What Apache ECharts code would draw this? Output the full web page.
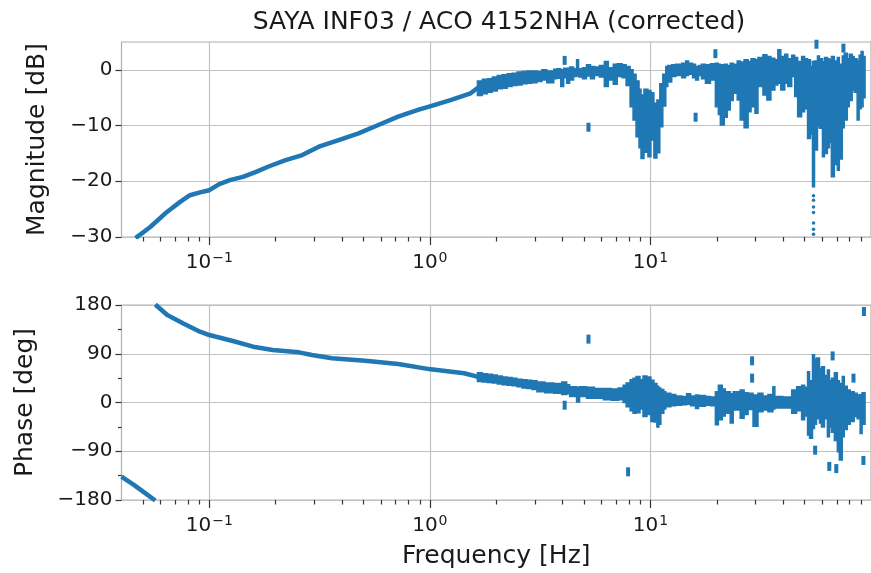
<!DOCTYPE html>
<html>
<head>
<meta charset="utf-8">
<title>SAYA INF03 / ACO 4152NHA (corrected)</title>
<script src="https://cdn.jsdelivr.net/npm/echarts@6/dist/echarts.min.js"></script>
<style>
html, body { margin: 0; padding: 0; background: #fff; }
#chart { width: 871px; height: 573px; }
</style>
</head>
<body>
<div id="chart"></div>
<script>
// ---- values ----
var xMajorTicks = [0.1, 1, 10];
var xMinorTicks = [0.05, 0.06, 0.07, 0.08, 0.09,
                   0.2, 0.3, 0.4, 0.5, 0.6, 0.7, 0.8, 0.9,
                   2, 3, 4, 5, 6, 7, 8, 9,
                   20, 30, 40, 50, 60, 70, 80, 90];
var magTicks = [-30, -20, -10, 0];
var phaseTicks = [-180, -90, 0, 90, 180];

// smooth part of the magnitude trace
var magFreq = [0.0463, 0.054, 0.0643, 0.0738, 0.0817, 0.0908, 0.1, 0.111, 0.124, 0.142,
               0.163, 0.187, 0.222, 0.264, 0.314, 0.386, 0.475, 0.584, 0.718, 0.883,
               1.01, 1.25, 1.53, 1.64, 2.02, 2.49, 3.06];
var magDb = [-30.2, -28.2, -25.5, -23.7, -22.5, -22.0, -21.6, -20.5, -19.8, -19.2,
             -18.3, -17.3, -16.2, -15.3, -13.8, -12.6, -11.4, -9.9, -8.4, -7.2,
             -6.5, -5.4, -4.2, -3.3, -2.3, -1.5, -1.1];

// noisy part of the magnitude trace: spread (low/high) between band edges
var magBandEdges = [1.643, 1.730, 1.823, 1.919, 2.021, 2.129, 2.242, 2.361, 2.486, 2.618,
                    2.757, 2.903, 3.058, 3.22, 3.39, 3.645, 3.762, 3.920, 4.044, 4.171,
                    4.302, 4.483, 4.626, 4.723, 4.921, 5.13, 5.348, 5.573, 5.869, 6.18,
                    6.442, 6.785, 7.07, 7.443, 7.758, 8.088, 8.342, 8.607, 8.879, 9.064,
                    9.349, 9.745, 10.05, 10.37, 10.70, 11.03, 11.38, 11.74, 11.99, 12.49,
                    13.02, 13.86, 14.44, 14.89, 15.52, 16.02, 16.52, 17.04, 17.76, 18.71,
                    19.70, 20.32, 20.75, 21.62, 22.30, 23.00, 23.73, 24.74, 25.52, 26.59,
                    27.72, 28.59, 29.80, 30.73, 32.37, 33.74, 35.17, 36.65, 37.81, 39.00,
                    40.65, 41.94, 43.70, 45.08, 46.50, 48.47, 49.99, 51.57, 53.19, 54.30,
                    55.44, 57.19, 58.40, 60.25, 61.51, 63.44, 64.77, 66.13, 68.22, 70.37,
                    71.84, 74.10, 75.65, 78.03, 79.67, 82.17, 83.90, 86.53, 88.35, 90.19,
                    92.05, 93.98];
var magBandLow = [-4.6, -4.3, -4.0, -3.8, -3.4, -3.3, -3.0, -2.8, -2.7, -2.5,
                  -2.4, -2.3, -2.1, -1.8, -2.3, -1.6, -1.5, -3.0, -1.4, -2.4,
                  -1.8, -1.2, -1.0, -1.3, -1.6, -1.1, -1.6, -1.0, -1.3, -3.0,
                  -1.8, -2.6, -1.2, -1.4, -2.8, -6.6, -9.0, -12.0, -14.0, -15.9,
                  -14.8, -15.6, -12.6, -15.8, -14.9, -10.2, -6.5, -3.0, -2.2, -1.2,
                  -1.0, -1.4, -1.0, -0.8, -1.4, -1.8, -1.0, -1.6, -2.4, -1.8,
                  -6.6, -8.0, -9.9, -8.5, -7.2, -5.5, -4.2, -5.4, -9.0, -10.4,
                  -7.5, -6.6, -7.8, -3.0, -4.5, -5.4, -3.6, -2.7, -2.4, -3.6,
                  -2.4, -3.0, -1.2, -4.8, -8.4, -7.5, -7.0, -12.3, -11.5, -21.0,
                  -14.4, -10.2, -10.5, -15.6, -15.0, -14.0, -13.0, -19.2, -17.0, -18.0,
                  -16.0, -10.4, -9.0, -6.6, -5.5, -3.6, -4.0, -9.0, -7.0, -6.6,
                  -5.0];
var magBandHigh = [-2.0, -1.7, -1.6, -1.3, -1.0, -0.9, -0.7, -0.6, -0.4, -0.3,
                   -0.2, -0.2, -0.3, 0.0, -0.2, 0.1, 0.2, 0.0, 0.3, 0.3,
                   0.5, 0.2, 1.8, 0.2, 0.4, 0.9, 0.6, 0.5, 0.8, 1.5,
                   0.4, 1.0, 1.1, 0.9, 0.6, 0.0, -0.8, -2.0, -3.5, -4.5,
                   -3.5, -3.7, -4.1, -6.0, -5.4, -2.5, -0.8, 0.6, 0.8, 0.9,
                   1.0, 1.2, 1.6, 1.2, 1.0, 0.6, 0.8, 1.0, 0.9, 1.1,
                   1.2, 1.0, 0.9, 1.0, 0.8, 1.2, 1.0, 1.6, 1.4, 1.8,
                   1.5, 2.0, 1.8, 2.2, 2.7, 2.4, 2.1, 1.8, 3.6, 2.4,
                   2.8, 2.0, 2.6, 2.2, 1.5, 2.4, 2.0, 1.8, 0.6, 1.5,
                   1.6, 2.5, 2.0, 1.4, 2.2, 2.0, 1.8, 2.4, 1.6, 2.2,
                   1.0, 2.5, 3.0, 2.0, 2.8, 2.4, 2.0, 1.6, 2.6, 3.3,
                   2.4];

// isolated magnitude samples
var magOutFreq = [4.085, 5.237, 16.02, 19.7, 56.6, 75.0];
var magOutDb = [1.7, -10.3, -8.5, 2.9, 4.6, 3.9];
var magDotFreq = [54.87, 54.87, 54.87, 54.87, 54.87, 54.87, 54.87];
var magDotDb = [-22.6, -23.4, -24.6, -25.6, -27.5, -28.6, -29.5];

// phase: wrapped branch at the lowest frequencies, then the smooth trace
var phaseWrapFreq = [0.04, 0.0455, 0.0503, 0.0569];
var phaseWrapDeg = [-137, -152, -165, -181];
var phaseFreq = [0.0569, 0.0645, 0.0763, 0.0908, 0.1, 0.128, 0.158, 0.194, 0.255, 0.292,
                 0.36, 0.509, 0.718, 1.01, 1.43, 1.64, 2.02, 2.49, 3.06];
var phaseDeg = [181, 161.5, 146, 130.7, 124.6, 113.5, 103, 97, 92.6, 87.7,
                81.6, 77.2, 71, 61.2, 54, 47.7, 41, 35, 29];

var phaseBandEdges = [1.643, 1.730, 1.823, 1.919, 2.021, 2.129, 2.242, 2.361, 2.486, 2.618,
                      2.757, 2.903, 3.058, 3.321, 3.645, 3.962, 4.171, 4.302, 4.626, 4.773,
                      5.13, 5.573, 6.115, 6.645, 7.143, 7.521, 7.758, 8.088, 8.342, 8.607,
                      8.971, 9.253, 9.645, 10.05, 10.37, 10.70, 10.92, 11.15, 11.50, 11.74,
                      12.37, 13.02, 13.86, 14.59, 15.21, 16.02, 16.52, 17.76, 18.71, 19.70,
                      20.32, 21.18, 21.85, 23.00, 23.73, 25.52, 26.59, 27.72, 29.19, 30.73,
                      32.37, 34.09, 35.91, 36.65, 39.81, 43.70, 46.02, 48.47, 49.99, 51.57,
                      52.65, 54.30, 55.44, 56.60, 58.40, 59.63, 61.51, 63.44, 64.77, 66.13,
                      68.22, 70.37, 71.84, 74.10, 75.65, 78.03, 80.47, 83.90, 86.53, 89.26,
                      91.12, 93.98];
var phaseBandLow = [39, 38, 37, 36, 34, 33, 32, 31, 29, 27,
                    26, 24, 20, 18, 17, 15, 16, 11, 1, 11,
                    8, 8, 5, 4, 5, 0, -8, -15, -20, -19,
                    -12, -26, -22, -35, -36, -45, -40, -20, -12, -8,
                    -6, -5, -4, -3, -6, -11, -7, -5, -6, -41,
                    -32, -25, -20, -38, -14, -29, -22, -13, -44, -17,
                    -14, -17, -12, -10, -10, -20, -15, -32, -25, -60,
                    -66, -48, -40, -30, -38, -45, -30, -63, -45, -55,
                    -70, -91, -106, -63, -50, -40, -35, -26, -30, -57,
                    -40];
var phaseBandHigh = [55, 53, 52, 51, 49, 47, 46, 45, 43, 42,
                     41, 40, 38, 36, 35, 38, 33, 29, 28, 29,
                     28, 26, 26, 25, 27, 32, 36, 42, 45, 48,
                     42, 49, 47, 41, 35, 30, 27, 24, 20, 17,
                     15, 12, 11, 16, 12, 14, 13, 11, 10, 20,
                     32, 25, 20, 16, 20, 23, 18, 17, 14, 17,
                     12, 15, 29, 11, 10, 23, 29, 32, 28, 57,
                     40, 88, 80, 82, 62, 66, 50, 60, 40, 45,
                     55, 40, 35, 48, 30, 23, 20, 17, 14, 15,
                     18];

var phaseOutFreq = [4.085, 5.237, 7.92, 28.9, 28.9, 55.8, 64.7, 67.0, 69.6, 83.3, 92.4, 92.9];
var phaseOutDeg = [-5, 117, -128, 45, 77, -88, -118, 86, -122, 45, -107, 168];

// ---- chart ----
var blue = '#1f77b4';
var ink = '#1a1a1a';
var font = 'DejaVu Sans';
var fMin = 0.04, fMax = 100;

function pairs(xs, ys) {
  var out = [];
  for (var i = 0; i < xs.length && i < ys.length; i++) out.push([xs[i], ys[i]]);
  return out;
}
// one data item per band: [centre freq, low, high]
function bandData(edges, lo, hi) {
  var out = [];
  for (var i = 0; i < lo.length && i + 1 < edges.length; i++) {
    out.push([Math.sqrt(edges[i] * edges[i + 1]), lo[i], hi[i]]);
  }
  return out;
}
// the whole spread is drawn as one stair-step outline (no seams between bands)
function bandRenderer(edges, lo, hi) {
  return function (params, api) {
    if (params.dataIndex !== 0) return null;
    var n = Math.min(lo.length, hi.length, edges.length - 1);
    var top = [], bottom = [];
    for (var i = 0; i < n; i++) {
      top.push(api.coord([edges[i], hi[i]]));
      top.push(api.coord([edges[i + 1], hi[i]]));
      bottom.push(api.coord([edges[i], lo[i]]));
      bottom.push(api.coord([edges[i + 1], lo[i]]));
    }
    return {
      type: 'polygon',
      shape: { points: top.concat(bottom.reverse()) },
      style: { fill: blue, stroke: blue, lineWidth: 1.5, lineJoin: 'miter' }
    };
  };
}
function decadeLabel(v) {
  var e = Math.round(Math.log10(v));
  return '{b|10}{s|' + (e < 0 ? '\u2212' + (-e) : String(e)) + '}';
}
function minus(v) {
  return v < 0 ? '\u2212' + (-v) : String(v);
}

var gridLineStyle = { color: '#c2c2c2', width: 1.2 };
var tickStyle = { color: '#333333', width: 1.2 };

function mainX(gridIndex) {
  return {
    type: 'log', logBase: 10, gridIndex: gridIndex, min: fMin, max: fMax,
    axisLine: { show: false, onZero: false },
    axisTick: { show: true, customValues: xMajorTicks, length: 8, lineStyle: tickStyle },
    axisLabel: {
      customValues: xMajorTicks, margin: 14, formatter: decadeLabel,
      rich: {
        b: { fontFamily: font, fontSize: 20, color: ink, verticalAlign: 'bottom' },
        s: { fontFamily: font, fontSize: 14, color: ink, verticalAlign: 'bottom', padding: [0, 0, 8, 1] }
      }
    },
    splitLine: { show: true, lineStyle: gridLineStyle }
  };
}
function minorX(gridIndex) {
  return {
    type: 'log', logBase: 10, gridIndex: gridIndex, min: fMin, max: fMax,
    axisLine: { show: false, onZero: false },
    axisTick: { show: true, customValues: xMinorTicks, length: 4.5, lineStyle: tickStyle },
    axisLabel: { show: false },
    splitLine: { show: false }
  };
}

var gridBox = { left: 121.5, width: 756, height: 195, show: true, borderColor: '#b0b0b0', borderWidth: 1.2 };
var dom = document.getElementById('chart');
var myChart = echarts.init(dom, null, { renderer: 'canvas' });
var option = {
  animation: false,
  backgroundColor: '#ffffff',
  title: {
    text: 'SAYA INF03 / ACO 4152NHA (corrected)',
    left: 494, top: 5, textAlign: 'center',
    textStyle: { fontFamily: font, fontSize: 25, fontWeight: 'normal', color: ink }
  },
  grid: [
    Object.assign({ top: 42 }, gridBox),
    Object.assign({ top: 305 }, gridBox),
    Object.assign({ top: 42 }, gridBox, { show: false }),
    Object.assign({ top: 305 }, gridBox, { show: false })
  ],
  xAxis: [
    mainX(0),
    Object.assign(mainX(1), {
      name: 'Frequency [Hz]', nameLocation: 'middle', nameGap: 44,
      nameTextStyle: { fontFamily: font, fontSize: 25, color: ink }
    }),
    minorX(2),
    minorX(3)
  ],
  yAxis: [
    {
      type: 'value', gridIndex: 0, min: -30, max: 5,
      name: 'Magnitude [dB]', nameLocation: 'middle', nameGap: 72,
      nameTextStyle: { fontFamily: font, fontSize: 25, color: ink },
      axisLine: { show: false, onZero: false },
      axisTick: { show: true, customValues: magTicks, length: 6, lineStyle: tickStyle },
      axisLabel: { customValues: magTicks, margin: 9, fontFamily: font, fontSize: 20, color: ink, formatter: minus },
      splitLine: { show: true, lineStyle: gridLineStyle }
    },
    {
      type: 'value', gridIndex: 1, min: -180, max: 180, interval: 90,
      name: 'Phase [deg]', nameLocation: 'middle', nameGap: 84,
      nameTextStyle: { fontFamily: font, fontSize: 25, color: ink },
      axisLine: { show: false, onZero: false },
      axisTick: { show: true, length: 6, lineStyle: tickStyle },
      minorTick: { show: true, splitNumber: 2, length: 3.5, lineStyle: tickStyle },
      axisLabel: { margin: 9, fontFamily: font, fontSize: 20, color: ink, formatter: minus },
      splitLine: { show: true, lineStyle: gridLineStyle }
    },
    { type: 'value', gridIndex: 2, min: -30, max: 5, show: false },
    { type: 'value', gridIndex: 3, min: -180, max: 180, show: false }
  ],
  series: [
    {
      name: 'magnitude', type: 'line', xAxisIndex: 0, yAxisIndex: 0,
      data: pairs(magFreq, magDb), showSymbol: false, silent: true,
      lineStyle: { color: blue, width: 4.5 }
    },
    {
      name: 'magnitude spread', type: 'custom', xAxisIndex: 0, yAxisIndex: 0,
      data: bandData(magBandEdges, magBandLow, magBandHigh),
      renderItem: bandRenderer(magBandEdges, magBandLow, magBandHigh), silent: true, clip: true
    },
    {
      name: 'magnitude outliers', type: 'scatter', xAxisIndex: 0, yAxisIndex: 0,
      data: pairs(magOutFreq, magOutDb), symbol: 'rect', symbolSize: [4, 9],
      itemStyle: { color: blue, opacity: 1, borderWidth: 0 }, silent: true
    },
    {
      name: 'magnitude dots', type: 'scatter', xAxisIndex: 0, yAxisIndex: 0,
      data: pairs(magDotFreq, magDotDb), symbol: 'circle', symbolSize: 3.5,
      itemStyle: { color: blue, opacity: 1, borderWidth: 0 }, silent: true
    },
    {
      name: 'phase wrapped', type: 'line', xAxisIndex: 1, yAxisIndex: 1,
      data: pairs(phaseWrapFreq, phaseWrapDeg), showSymbol: false, silent: true,
      lineStyle: { color: blue, width: 4.5 }
    },
    {
      name: 'phase', type: 'line', xAxisIndex: 1, yAxisIndex: 1,
      data: pairs(phaseFreq, phaseDeg), showSymbol: false, silent: true,
      lineStyle: { color: blue, width: 4.5 }
    },
    {
      name: 'phase spread', type: 'custom', xAxisIndex: 1, yAxisIndex: 1,
      data: bandData(phaseBandEdges, phaseBandLow, phaseBandHigh),
      renderItem: bandRenderer(phaseBandEdges, phaseBandLow, phaseBandHigh), silent: true, clip: true
    },
    {
      name: 'phase outliers', type: 'scatter', xAxisIndex: 1, yAxisIndex: 1,
      data: pairs(phaseOutFreq, phaseOutDeg), symbol: 'rect', symbolSize: [4, 9],
      itemStyle: { color: blue, opacity: 1, borderWidth: 0 }, silent: true
    }
  ]
};
myChart.setOption(option, true);
</script>
</body>
</html>
